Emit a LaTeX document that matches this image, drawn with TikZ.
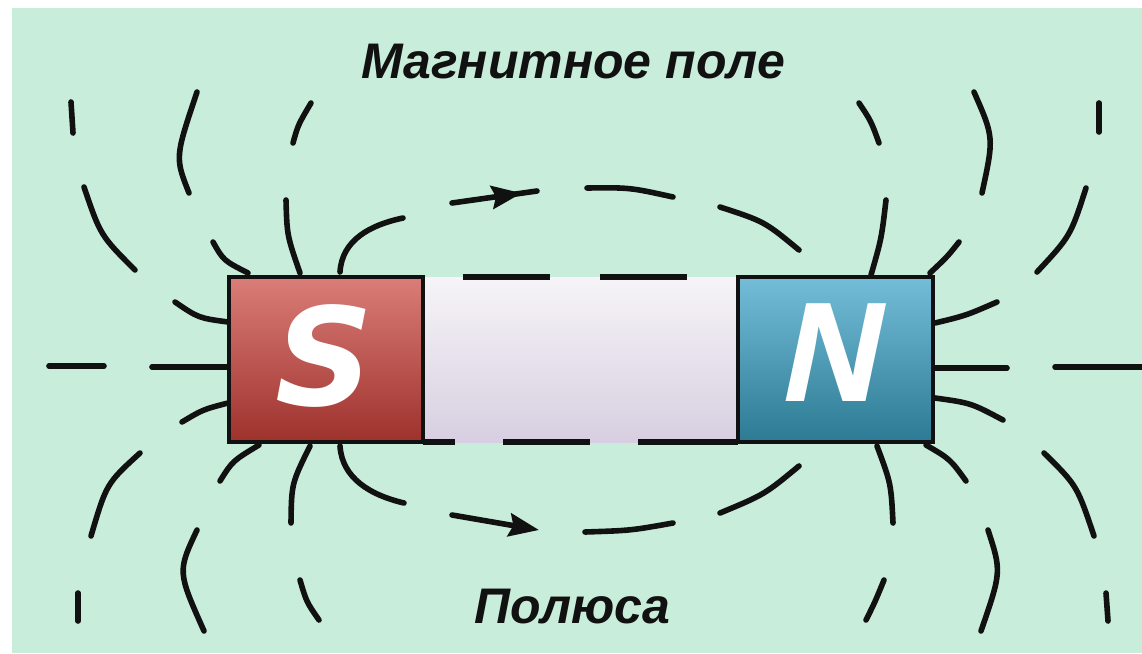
\documentclass[tikz,border=0pt]{standalone}
\usepackage{fontspec}
\setmainfont{Liberation Sans}
\newfontfamily\southletter{DejaVu Sans}
\newfontfamily\northletter{Open Sans}
\usetikzlibrary{arrows.meta,decorations.markings}

\definecolor{fieldbg}{HTML}{C9EDDB}
\definecolor{southtop}{HTML}{DA7D78}
\definecolor{southbot}{HTML}{9E312C}
\definecolor{northtop}{HTML}{74BDD8}
\definecolor{northbot}{HTML}{2C7A93}
\definecolor{bartop}{HTML}{F6F4F7}
\definecolor{barmid}{HTML}{E6E0EC}
\definecolor{barbot}{HTML}{D7CFE1}
\definecolor{ink}{HTML}{111111}

\begin{document}
\begin{tikzpicture}[x=1pt,y=-1pt,
  field/.style={line width=5.6pt, line cap=round, draw=ink},
  poleedge/.style={line width=4.4pt, draw=ink, line join=miter},
  caption/.style={font=\fontsize{50}{60}\selectfont\bfseries\itshape, text=ink, anchor=base, inner sep=0pt},
  letter/.style={text=white, anchor=base, inner sep=0pt},
  headtip/.tip={Stealth[length=30pt,width=23pt,inset=4pt]}]

\useasboundingbox (0,0) rectangle (1142,653);
\fill[white] (0,0) rectangle (1142,653);
\fill[fieldbg] (12,8) rectangle (1142,653);

% ---- field lines around the south pole ----
\draw[field] (228,322) .. controls (198.5,318) .. (175,302);
\draw[field] (135,270) .. controls (100.5,235.5) .. (84,187);
\draw[field] (73,133) -- (71,102);
\draw[field] (228,367) -- (152,367);
\draw[field] (104,366) -- (49,366);
\draw[field] (228,403) .. controls (203,409.5) .. (182,422);
\draw[field] (140,453) .. controls (106.5,483.5) .. (91,536);
\draw[field] (78,593) -- (78,621);
\draw[field] (248,273) .. controls (223.5,260.5) .. (213,242);
\draw[field] (189,193) .. controls (175,157.5) .. (197,92);
\draw[field] (300,273) .. controls (287,235.5) .. (286,200);
\draw[field] (293,143) .. controls (298,125) .. (311,103);
\draw[field] (259,445) .. controls (232.5,461) .. (220,481);
\draw[field] (197,530) .. controls (177.5,571.5) .. (204,631);
\draw[field] (310,446) .. controls (291.5,483.5) .. (291,523);
\draw[field] (300,580) .. controls (306.5,602) .. (319,620);

% ---- inner loops from S to N ----
\draw[field] (340,272) .. controls (342,240) and (370,225) .. (403,218);
\draw[field, postaction={decorate, decoration={markings,
      mark=at position 0.82 with {\arrow{headtip}}}}] (452,203) -- (537,191);
\draw[field] (587,188) .. controls (630,187.5) .. (673,197);
\draw[field] (720,207) .. controls (764.5,221.5) .. (799,250);
\draw[field] (340,446) .. controls (342,478) and (370,495) .. (404,503);
\draw[field, -{headtip}] (452,515) -- (539,530);
\draw[field] (585,532) .. controls (631,530.5) .. (673,523);
\draw[field] (720,513) .. controls (764.5,494.5) .. (799,466);

% ---- field lines around the north pole ----
\draw[field] (935,323) .. controls (966,315.5) .. (997,302);
\draw[field] (1037,272) .. controls (1070.5,236) .. (1086,188);
\draw[field] (1099,132) -- (1099,103);
\draw[field] (935,368) -- (1007,368);
\draw[field] (1055,367) -- (1142,367);
\draw[field] (935,398) .. controls (971,403) .. (1003,420);
\draw[field] (1044,453) .. controls (1077,485.5) .. (1094,536);
\draw[field] (1106,593) -- (1108,621);
\draw[field] (930,273) .. controls (947.5,256.5) .. (959,242);
\draw[field] (982,193) .. controls (994,137.5) .. (974,92);
\draw[field] (871,275) .. controls (881.5,238.5) .. (886,200);
\draw[field] (879,143) .. controls (871,121) .. (859,103);
\draw[field] (926,445) .. controls (950,459) .. (966,481);
\draw[field] (988,530) .. controls (1001.5,571.5) .. (981,631);
\draw[field] (877,446) .. controls (891,483.5) .. (893,523);
\draw[field] (884,580) .. controls (875,602) .. (866,620);

% ---- magnet body ----
\shade[top color=bartop, middle color=barmid, bottom color=barbot] (423,277) rectangle (738,442);
\draw[field, line cap=butt] (463,277) -- (550,277);
\draw[field, line cap=butt] (600,277) -- (687,277);
\draw[field, line cap=butt] (423,442) -- (455,442);
\draw[field, line cap=butt] (503,442) -- (590,442);
\draw[field, line cap=butt] (638,442) -- (738,442);

% ---- poles ----
\shade[top color=southtop, bottom color=southbot] (229,277) rectangle (423,442);
\draw[poleedge] (229,277) rectangle (423,442);
\shade[top color=northtop, bottom color=northbot] (738,277) rectangle (933,442);
\draw[poleedge] (738,277) rectangle (933,442);
\node[letter, font=\southletter\fontsize{136}{136}\selectfont\bfseries\itshape] (south) at (324,405) {S};
\node[letter, font=\northletter\fontsize{137}{137}\selectfont\bfseries\itshape] (north) at (834,401) {N};

% ---- captions ----
\node[caption] (fieldname) at (573,78) {Магнитное поле};
\node[caption] (polesname) at (572,623) {Полюса};
\end{tikzpicture}
\end{document}
